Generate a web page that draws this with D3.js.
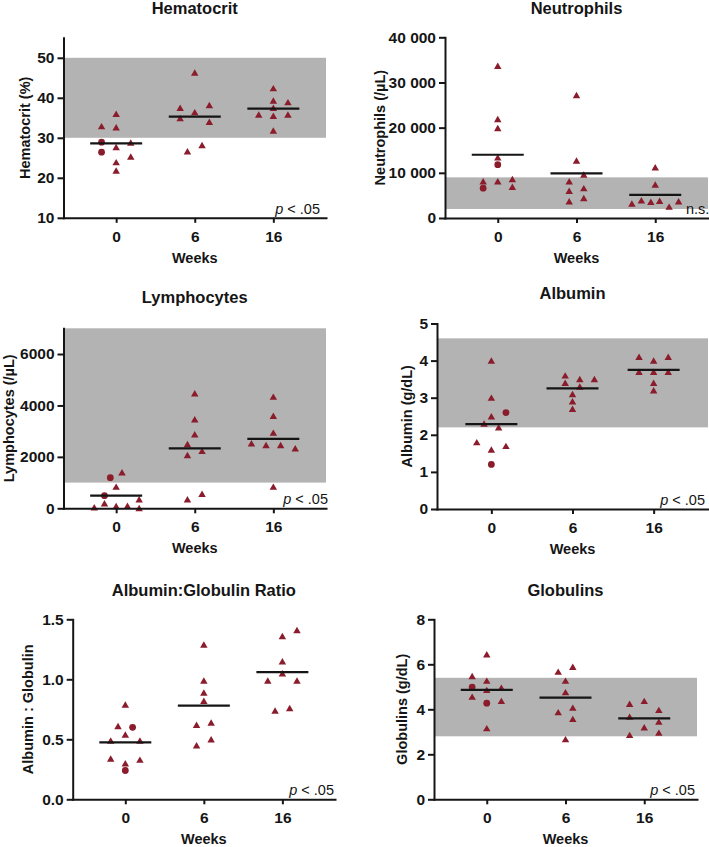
<!DOCTYPE html>
<html><head><meta charset="utf-8">
<script src="https://cdn.jsdelivr.net/npm/d3@7"></script>
<style>
body{margin:0;background:#fff;}
svg{display:block;font-family:"Liberation Sans",Arial,Helvetica,sans-serif;}
</style></head>
<body><svg id="chart" width="709" height="847"></svg>
<script>
// ---------- DATA ----------
const weeks = ["0", "6", "16"];
const panelTitles = ["Hematocrit", "Neutrophils", "Lymphocytes", "Albumin", "Albumin:Globulin Ratio", "Globulins"];
const yAxisLabels = ["Hematocrit (%)", "Neutrophils (/\u00B5L)", "Lymphocytes (/\u00B5L)", "Albumin (g/dL)", "Albumin : Globulin", "Globulins (g/dL)"];
const statLabels = ["p < .05", "n.s.", "p < .05", "p < .05", "p < .05", "p < .05"];

const hematocritValues = [
  [32.9, 36.0, 32.6, 28.9, 27.7, 28.8, 26.4, 25.3, 23.9, 21.8],
  [46.3, 37.5, 38.2, 36.4, 34.9, 34.0, 28.2, 26.6],
  [42.4, 39.3, 38.9, 37.5, 35.8, 35.5, 35.8, 31.8]];
const hematocritJitter = [[-2,0,0,-2,0,2,-2,2,0,0],[0,-2,2,0,-2,2,1,-1],[0,0,2,0,-2,0,2,0]];
const hematocritCircles = [3, 6];
const hematocritMedians = [28.6, 35.3, 37.3];
const hematocritRange = [30, 50];
const hematocritDomain = [10, 55];
const hematocritTicks = [10, 20, 30, 40, 50];
const hematocritTickLabels = ["10", "20", "30", "40", "50"];

const neutrophilValues = [
  [33700, 21900, 19900, 13400, 11800, 8100, 8100, 8600, 6900, 6600],
  [27200, 12700, 9600, 8100, 6000, 6600, 3700, 4400],
  [11200, 7400, 3200, 3900, 3600, 3800, 2500, 3700]];
const neutrophilJitter = [[0,0,0,0,0,0,-2,2,2,-2],[0,0,1,-1,-1,1,-1,1],[0,0,-3.2,-1.9,-0.6,0.6,1.9,3.2]];
const neutrophilCircles = [4, 9];
const neutrophilMedians = [14000, 9900, 5100];
const neutrophilRange = [2000, 9000];
const neutrophilDomain = [0, 40000];
const neutrophilTicks = [0, 10000, 20000, 30000, 40000];
const neutrophilTickLabels = ["0", "10 000", "20 000", "30 000", "40 000"];

const lymphocyteValues = [
  [1190, 1400, 840, 490, 190, 40, 90, 100, 350, 10],
  [4470, 3460, 2880, 2500, 2230, 2070, 560, 350],
  [4340, 3600, 2940, 2530, 2460, 2460, 2330, 840]];
const lymphocyteJitter = [[-0.8,0.8,0,-1.6,-1.6,-3,0,1.55,3.15,3.15],[0,0,0,-1,1,-1,1,-1],[0,0,0,-3,-1,1,3,0]];
const lymphocyteCircles = [0, 3];
const lymphocyteMedians = [490, 2330, 2700];
const lymphocyteRange = [1000, 7000];
const lymphocyteDomain = [0, 7000];
const lymphocyteTicks = [0, 2000, 4000, 6000];
const lymphocyteTickLabels = ["0", "2000", "4000", "6000"];

const albuminValues = [
  [4.0, 3.0, 2.6, 2.5, 2.3, 2.2, 1.8, 1.7, 1.6, 1.2],
  [3.6, 3.4, 3.5, 3.5, 3.3, 3.1, 2.9, 2.7],
  [4.1, 4.0, 4.1, 3.7, 3.7, 3.7, 3.4, 3.2]];
const albuminJitter = [[0,0,2,0,-1,1,-2,2,0,0],[-1,-1,1,3,1,0,0,0],[-2,0,2,-2,0,2,0,0]];
const albuminCircles = [2, 9];
const albuminMedians = [2.29, 3.25, 3.75];
const albuminRange = [2.2, 4.6];
const albuminDomain = [0, 5];
const albuminTicks = [0, 1, 2, 3, 4, 5];
const albuminTickLabels = ["0", "1", "2", "3", "4", "5"];

const agRatioValues = [
  [0.79, 0.61, 0.60, 0.54, 0.49, 0.49, 0.34, 0.33, 0.30, 0.24],
  [1.29, 0.99, 0.89, 0.82, 0.62, 0.64, 0.50, 0.45],
  [1.41, 1.36, 1.15, 1.05, 0.99, 0.99, 0.74, 0.76]];
const agRatioJitter = [[0,-1,1,0,-2,2,-2,2,0,0],[0,0,0,0,-1,1,1,-1],[2,0,0,0,-2,2,-1,1]];
const agRatioCircles = [2, 9];
const agRatioMedians = [0.475, 0.78, 1.06];
const agRatioRange = null;
const agRatioDomain = [0, 1.5];
const agRatioTicks = [0, 0.5, 1.0, 1.5];
const agRatioTickLabels = ["0.0", "0.5", "1.0", "1.5"];

const globulinValues = [
  [6.44, 5.48, 5.27, 4.99, 4.96, 4.86, 4.56, 4.37, 4.27, 3.16],
  [5.89, 5.67, 5.27, 4.76, 4.07, 3.87, 3.57, 2.67],
  [4.24, 4.37, 3.97, 3.67, 3.45, 3.2, 2.86, 2.96]];
const globulinJitter = [[0,-2,0,-2,2,0,-2,2,0,0],[1,-1,0,0,1,-1,1,0],[-2,0,2,-2,2,0,-2,2]];
const globulinCircles = [3, 8];
const globulinMedians = [4.86, 4.52, 3.6];
const globulinRange = [2.8, 5.4];
const globulinDomain = [0, 8];
const globulinTicks = [0, 2, 4, 6, 8];
const globulinTickLabels = ["0", "2", "4", "6", "8"];

// ---------- LAYOUT (positions / styles) ----------
const layout = [
  {x0: 63.5, x1: 326, yTop: 37.8, yBot: 217.8, titleY: 14, yLabelX: 30, statX: 320, statAnchor: "end"},
  {x0: 445, x1: 708, yTop: 37.3, yBot: 218, titleY: 14, yLabelX: 385, statX: 686, statAnchor: "start"},
  {x0: 63.5, x1: 326, yTop: 328.3, yBot: 508.3, titleY: 303, yLabelX: 14, statX: 328, statAnchor: "end"},
  {x0: 437, x1: 708, yTop: 323.5, yBot: 509, titleY: 299, yLabelX: 412, statX: 705, statAnchor: "end"},
  {x0: 72.7, x1: 335, yTop: 619.3, yBot: 799.3, titleY: 596, yLabelX: 33, statX: 334, statAnchor: "end"},
  {x0: 434, x1: 697, yTop: 619.3, yBot: 799.3, titleY: 596, yLabelX: 407, statX: 695, statAnchor: "end"}
];
const MARK = "#8a1c2b", BAND = "#b3b3b3", INK = "#151515";
const LANE = 7.3;

const panels = [
  {values: hematocritValues, jitter: hematocritJitter, circles: hematocritCircles, medians: hematocritMedians, range: hematocritRange, domain: hematocritDomain, ticks: hematocritTicks, tickLabels: hematocritTickLabels},
  {values: neutrophilValues, jitter: neutrophilJitter, circles: neutrophilCircles, medians: neutrophilMedians, range: neutrophilRange, domain: neutrophilDomain, ticks: neutrophilTicks, tickLabels: neutrophilTickLabels},
  {values: lymphocyteValues, jitter: lymphocyteJitter, circles: lymphocyteCircles, medians: lymphocyteMedians, range: lymphocyteRange, domain: lymphocyteDomain, ticks: lymphocyteTicks, tickLabels: lymphocyteTickLabels},
  {values: albuminValues, jitter: albuminJitter, circles: albuminCircles, medians: albuminMedians, range: albuminRange, domain: albuminDomain, ticks: albuminTicks, tickLabels: albuminTickLabels},
  {values: agRatioValues, jitter: agRatioJitter, circles: agRatioCircles, medians: agRatioMedians, range: agRatioRange, domain: agRatioDomain, ticks: agRatioTicks, tickLabels: agRatioTickLabels},
  {values: globulinValues, jitter: globulinJitter, circles: globulinCircles, medians: globulinMedians, range: globulinRange, domain: globulinDomain, ticks: globulinTicks, tickLabels: globulinTickLabels}
];

const svg = d3.select("#chart");
svg.append("rect").attr("width", 709).attr("height", 847).attr("fill", "#fff");

const tri = d3.symbol().type(d3.symbolTriangle).size(24)();
const circ = d3.symbol().type(d3.symbolCircle).size(36)();

panels.forEach((p, i) => {
  const L = layout[i];
  const g = svg.append("g");
  const x = d3.scalePoint().domain(weeks).range([L.x0, L.x1]).padding(0.67);
  const y = d3.scaleLinear().domain(p.domain).range([L.yBot, L.yTop]);

  // reference band
  if (p.range) {
    g.append("rect")
      .attr("x", L.x0).attr("width", L.x1 - L.x0)
      .attr("y", y(p.range[1])).attr("height", y(p.range[0]) - y(p.range[1]))
      .attr("fill", BAND);
  }

  // points
  const pts = [];
  p.values.forEach((arr, wi) => arr.forEach((v, k) => {
    pts.push({wk: weeks[wi], v, j: p.jitter[wi][k], circle: wi === 0 && p.circles.includes(k)});
  }));
  g.selectAll("path.pt").data(pts).join("path")
    .attr("class", "pt")
    .attr("d", d => d.circle ? circ : tri)
    .attr("transform", d => `translate(${x(d.wk) + d.j * LANE},${y(d.v) + (d.circle ? 0 : 1)})`)
    .attr("fill", MARK);

  // medians
  g.selectAll("line.med").data(p.medians).join("line")
    .attr("class", "med")
    .attr("x1", (d, k) => x(weeks[k]) - 26).attr("x2", (d, k) => x(weeks[k]) + 26)
    .attr("y1", d => y(d)).attr("y2", d => y(d))
    .attr("stroke", INK).attr("stroke-width", 2.2);

  // axes
  const ax = g.append("g").attr("transform", `translate(0,${L.yBot})`)
    .call(d3.axisBottom(x).tickSize(5).tickSizeOuter(0).tickPadding(8));
  const ay = g.append("g").attr("transform", `translate(${L.x0},0)`)
    .call(d3.axisLeft(y).tickValues(p.ticks).tickFormat((d, k) => p.tickLabels[k]).tickSize(6).tickSizeOuter(0).tickPadding(3));
  [ax, ay].forEach(a => {
    a.select(".domain").attr("stroke", INK).attr("stroke-width", 2).attr("stroke-linecap", "square");
    a.selectAll(".tick line").attr("stroke", INK).attr("stroke-width", 2);
    a.selectAll(".tick text").attr("fill", INK).attr("font-size", 15.5).attr("font-weight", "bold")
      .attr("font-family", '"Liberation Sans", Arial, sans-serif');
  });

  // title
  g.append("text").attr("x", (L.x0 + L.x1) / 2).attr("y", L.titleY)
    .attr("text-anchor", "middle").attr("font-size", 16.5).attr("font-weight", "bold").attr("fill", INK)
    .text(panelTitles[i]);
  // x title
  g.append("text").attr("x", (L.x0 + L.x1) / 2).attr("y", L.yBot + 45)
    .attr("text-anchor", "middle").attr("font-size", 14.5).attr("font-weight", "bold").attr("fill", INK)
    .text("Weeks");
  // y title
  g.append("text")
    .attr("transform", `translate(${L.yLabelX},${(L.yTop + L.yBot) / 2}) rotate(-90)`)
    .attr("text-anchor", "middle").attr("font-size", 14.5).attr("font-weight", "bold").attr("fill", INK)
    .text(yAxisLabels[i]);
  // stat label
  const st = g.append("text").attr("x", L.statX).attr("y", L.yBot - 4)
    .attr("text-anchor", L.statAnchor).attr("font-size", 14.5).attr("fill", INK);
  const s = statLabels[i];
  if (s.startsWith("p ")) {
    st.append("tspan").attr("font-style", "italic").text("p");
    st.append("tspan").text(s.slice(1));
  } else {
    st.text(s);
  }
});
</script></body></html>
